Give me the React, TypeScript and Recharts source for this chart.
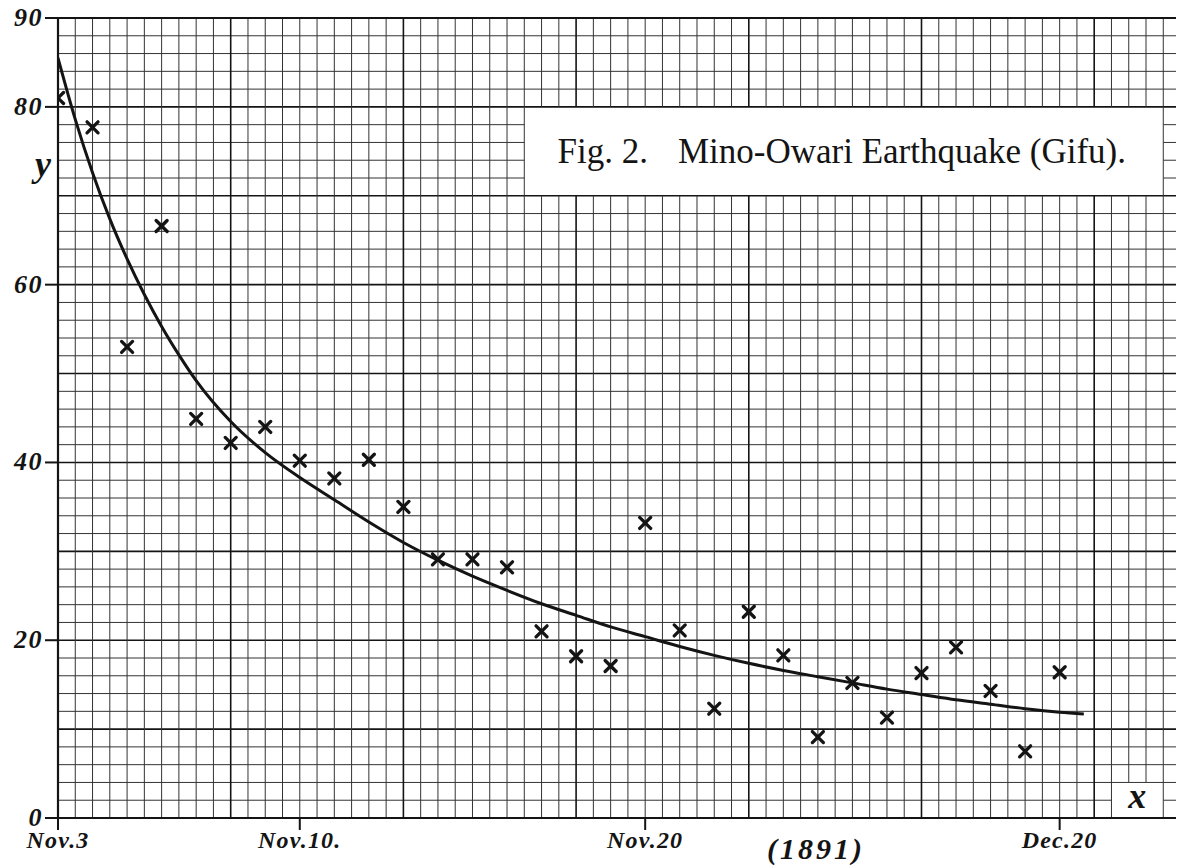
import React from 'react';
import { ComposedChart, Line, Scatter, XAxis, YAxis, ReferenceLine, ReferenceArea } from 'recharts';

// ---- data ----
const pointDay = [0, 1, 2, 3, 4, 5, 6, 7, 8, 9, 10, 11, 12, 13, 14, 15, 16, 17, 18, 19, 20, 21, 22, 23, 24, 25, 26, 27, 28, 29];
const pointCount = [81.0, 77.7, 53.0, 66.6, 44.9, 42.2, 44.0, 40.2, 38.2, 40.3, 35.0, 29.1, 29.1, 28.2, 21.0, 18.2, 17.1, 33.2, 21.1, 12.3, 23.2, 18.3, 9.1, 15.2, 11.3, 16.3, 19.2, 14.3, 7.5, 16.4];

const curveDay = [0, 0.5, 1, 1.5, 2, 2.5, 3, 3.5, 4, 5, 6, 7, 8, 9, 10, 11, 12, 13, 14, 15, 16, 17, 18, 19, 20, 21, 22, 23, 24, 25, 26, 27, 28, 29, 29.7];
const curveCount = [85.5, 78.6, 72.6, 67.4, 62.9, 58.9, 55.3, 52.1, 49.2, 44.6, 41.1, 38.3, 35.8, 33.3, 31.0, 29.0, 27.2, 25.6, 24.1, 22.8, 21.5, 20.4, 19.3, 18.3, 17.4, 16.6, 15.9, 15.2, 14.5, 13.9, 13.3, 12.8, 12.3, 11.9, 11.7];

const xTickDays = [0, 7, 17, 29];
const xTickLabels = ['Nov.3', 'Nov.10.', 'Nov.20', 'Dec.20'];
const yTickValues = [0, 20, 40, 60, 80, 90];

const titleText1 = 'Fig. 2.';
const titleText2 = 'Mino-Owari Earthquake (Gifu).';
const yearText = '(1891)';

// ---- layout constants ----
const X_MAX = 32.6;
const Y_MAX = 90;
const titleBox = { x1: 13.5, x2: 32, y1: 70, y2: 80 };
const xLabelBox = { x1: 30.5, x2: 32, y1: 0, y2: 4 };
const boxes = [titleBox, xLabelBox];

const INK = '#141414';
const GRID = '#333333';
const SERIF = '"Liberation Serif", "Times New Roman", serif';

const scatterData = pointDay.map((d, i) => ({ x: d, y: pointCount[i] }));
const curveData = curveDay.map((d, i) => ({ x: d, y: curveCount[i] }));

function subtract(start: number, end: number, gaps: [number, number][]) {
  let segs: [number, number][] = [[start, end]];
  gaps.forEach(([g0, g1]) => {
    const next: [number, number][] = [];
    segs.forEach(([a, b]) => {
      if (g1 <= a || g0 >= b) { next.push([a, b]); return; }
      if (g0 > a) next.push([a, g0]);
      if (g1 < b) next.push([g1, b]);
    });
    segs = next;
  });
  return segs;
}

const hValues: number[] = [];
for (let v = 2; v < Y_MAX; v += 2) hValues.push(v);
const vValues: number[] = [];
for (let k = 1; k <= 65; k++) vValues.push(k / 2);

const hSegments: { v: number; a: number; b: number; major: boolean }[] = [];
hValues.forEach((v) => {
  const gaps = boxes.filter((bx) => v > bx.y1 && v < bx.y2).map((bx) => [bx.x1, bx.x2] as [number, number]);
  subtract(0, X_MAX, gaps).forEach(([a, b]) => hSegments.push({ v, a, b, major: v % 10 === 0 }));
});
const vSegments: { u: number; a: number; b: number; major: boolean }[] = [];
vValues.forEach((u) => {
  if (u > X_MAX) return;
  const gaps = boxes.filter((bx) => u > bx.x1 && u < bx.x2).map((bx) => [bx.y1, bx.y2] as [number, number]);
  subtract(0, Y_MAX, gaps).forEach(([a, b]) => vSegments.push({ u, a, b, major: u % 5 === 0 }));
});

const CrossMark = (props: any) => {
  const { cx, cy } = props;
  if (cx == null || cy == null) return null;
  const s = 5.5;
  return (
    <g>
      <line x1={cx - s} y1={cy - s} x2={cx + s} y2={cy + s} stroke={INK} strokeWidth={3.3} strokeLinecap="round" />
      <line x1={cx - s} y1={cy + s} x2={cx + s} y2={cy - s} stroke={INK} strokeWidth={3.3} strokeLinecap="round" />
    </g>
  );
};

const XTick = (props: any) => {
  const { x, y, payload } = props;
  const idx = xTickDays.indexOf(payload.value);
  return (
    <text x={x} y={y} dy={16} textAnchor="middle" fill={INK} fontFamily={SERIF} fontWeight="bold" fontStyle="italic" fontSize={24} letterSpacing={1.2}>
      {idx >= 0 ? xTickLabels[idx] : ''}
    </text>
  );
};

const YTick = (props: any) => {
  const { x, y, payload } = props;
  return (
    <text x={x} y={y} dy={8} textAnchor="end" fill={INK} fontFamily={SERIF} fontWeight="bold" fontStyle="italic" fontSize={26} letterSpacing={1.5}>
      {String(payload.value)}
    </text>
  );
};

export default function App() {
  return (
    <div style={{ position: 'relative', left: -8, top: -8, width: 1184, height: 866, background: '#fff' }}>
      <ComposedChart width={1184} height={866} margin={{ top: 18, right: 0, bottom: 0, left: 0 }}>
        <XAxis
          type="number"
          dataKey="x"
          domain={[0, X_MAX]}
          ticks={xTickDays}
          allowDataOverflow
          height={48}
          tickSize={12}
          tickMargin={2}
          axisLine={{ stroke: INK, strokeWidth: 2.2 }}
          tickLine={{ stroke: INK, strokeWidth: 2 }}
          tick={<XTick />}
          interval={0}
        />
        <YAxis
          type="number"
          dataKey="y"
          domain={[0, Y_MAX]}
          ticks={yTickValues}
          allowDataOverflow
          width={58}
          tickSize={13}
          tickMargin={2}
          axisLine={{ stroke: INK, strokeWidth: 2.2 }}
          tickLine={{ stroke: INK, strokeWidth: 2 }}
          tick={<YTick />}
          interval={0}
        />
        {hSegments.map((s, i) => (
          <ReferenceLine
            key={'h' + i}
            segment={[{ x: s.a, y: s.v }, { x: s.b, y: s.v }]}
            stroke={s.major ? INK : GRID}
            strokeWidth={s.major ? 1.6 : 1}
            ifOverflow="visible"
          />
        ))}
        {vSegments.map((s, i) => (
          <ReferenceLine
            key={'v' + i}
            segment={[{ x: s.u, y: s.a }, { x: s.u, y: s.b }]}
            stroke={s.major ? INK : GRID}
            strokeWidth={s.major ? 1.6 : 1}
            ifOverflow="visible"
          />
        ))}
        <ReferenceLine y={Y_MAX} stroke={INK} strokeWidth={2.2} ifOverflow="visible" />
        <ReferenceArea
          x1={titleBox.x1}
          x2={titleBox.x2}
          y1={titleBox.y1}
          y2={titleBox.y2}
          fill="#fff"
          fillOpacity={0}
          stroke="none"
          ifOverflow="visible"
          label={(p: any) => {
            const vb = p.viewBox;
            return (
              <text
                x={vb.x + vb.width / 2 - 2}
                y={vb.y + vb.height / 2 + 12}
                textAnchor="middle"
                fill={INK}
                fontFamily={SERIF}
                fontSize={35}
              >
                <tspan>{titleText1}</tspan>
                <tspan dx={30}>{titleText2}</tspan>
              </text>
            );
          }}
        />
        <ReferenceArea
          x1={xLabelBox.x1}
          x2={xLabelBox.x2}
          y1={xLabelBox.y1}
          y2={xLabelBox.y2}
          fill="#fff"
          fillOpacity={0}
          stroke="none"
          ifOverflow="visible"
          label={(p: any) => {
            const vb = p.viewBox;
            return (
              <text
                x={vb.x + vb.width / 2}
                y={vb.y + vb.height / 2 + 8}
                textAnchor="middle"
                fill={INK}
                fontFamily={SERIF}
                fontStyle="italic"
                fontWeight="bold"
                fontSize={36}
              >
                x
              </text>
            );
          }}
        />
        <Line
          data={curveData}
          dataKey="y"
          type="monotone"
          stroke={INK}
          strokeWidth={3}
          dot={false}
          activeDot={false}
          isAnimationActive={false}
        />
        <Scatter data={scatterData} dataKey="y" shape={<CrossMark />} isAnimationActive={false} />
      </ComposedChart>
      <svg width={1184} height={866} style={{ position: 'absolute', left: 0, top: 0, pointerEvents: 'none' }}>
        <text x={43} y={176} textAnchor="middle" fill={INK} fontFamily={SERIF} fontStyle="italic" fontWeight="bold" fontSize={36}>
          y
        </text>
        <text x={816} y={859} textAnchor="middle" fill={INK} fontFamily={SERIF} fontStyle="italic" fontWeight="bold" fontSize={30} letterSpacing={3}>
          {yearText}
        </text>
      </svg>
    </div>
  );
}
